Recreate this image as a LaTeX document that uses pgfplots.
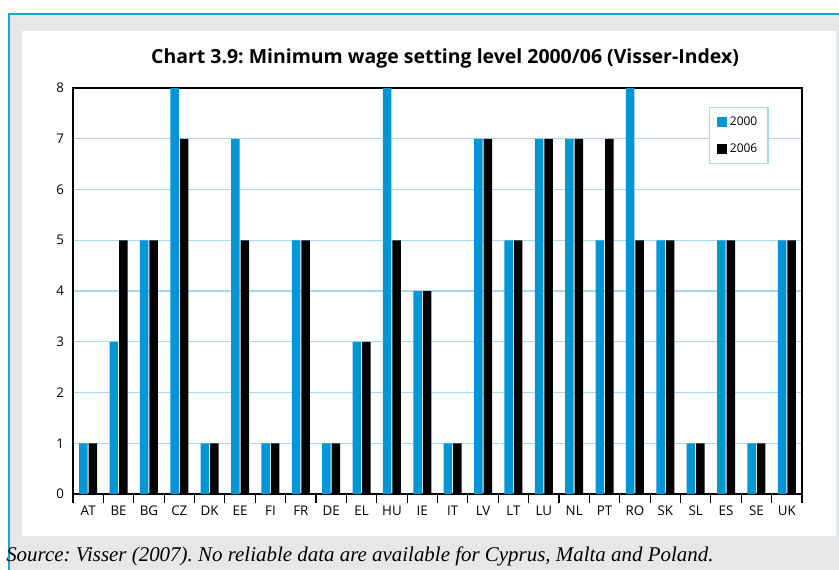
\documentclass[border=0pt]{standalone}
\usepackage{pgfplots}
\pgfplotsset{compat=1.18}
\usepackage{fontspec}
\setmainfont{Open Sans}
\newfontfamily\capfont{Liberation Serif}
\definecolor{barblue}{RGB}{0,150,214}
\definecolor{gridblue}{RGB}{166,216,240}
\definecolor{frameblue}{RGB}{27,161,219}
\definecolor{bggrey}{RGB}{230,231,232}
\frenchspacing
\begin{document}
\begin{tikzpicture}
\begin{scope}[x=0.75pt,y=-0.75pt]
\useasboundingbox (0,0) rectangle (839,570);
\fill[white] (0,0) rectangle (839,570);
\fill[bggrey] (9,15) rectangle (839,570);
\draw[frameblue,line width=1.5pt] (8.5,570) -- (8.5,14.5) -- (839,14.5);
\fill[white] (22,31) rectangle (836,536);
\node[anchor=base,font=\bfseries\fontsize{14.6}{16}\selectfont] at (445,64) {Chart 3.9: Minimum wage setting level 2000/06 (Visser-Index)};
\node[anchor=base west,font=\capfont\itshape\fontsize{15.7}{17}\selectfont,inner sep=0pt] at (6,561) {Source: Visser (2007). No reliable data are available for Cyprus, Malta and Poland.};
\end{scope}
\begin{axis}[
  at={(54.75pt,-370.5pt)}, anchor=south west,
  scale only axis, width=546.75pt, height=304.5pt,
  ybar=0.75pt, bar width=6.4pt,
  xmin=-0.5, xmax=23.5, ymin=0, ymax=8,
  xtick={0,...,23},
  xticklabels={AT,BE,BG,CZ,DK,EE,FI,FR,DE,EL,HU,IE,IT,LV,LT,LU,NL,PT,RO,SK,SL,ES,SE,UK},
  minor xtick={-0.5,0.5,...,23.5},
  major x tick style={draw=none},
  minor x tick style={black, line width=0.8pt},
  minor tick length=7pt,
  tick align=outside,
  xtick pos=bottom, ytick pos=left,
  ytick={0,...,8},
  major y tick style={draw=none},
  ymajorgrids, grid style={gridblue, line width=0.9pt},
  axis line style={black, line width=0.8pt},
  tick label style={font=\fontsize{10}{11}\selectfont},
  yticklabel style={xshift=1pt},
  xticklabel style={yshift=-1pt},
  /pgf/number format/assume math mode=true,
  legend style={at={(0.872,0.953)}, anchor=north west, draw=gridblue, line width=0.8pt,
    font=\fontsize{9}{10}\selectfont, inner xsep=6pt, inner ysep=5pt, row sep=8pt},
  legend cell align=left,
]
\addplot[fill=barblue, draw=none, legend image code/.code={\fill[barblue] (0pt,-3.7pt) rectangle (7.5pt,3.7pt);}] coordinates {
(0,1)(1,3)(2,5)(3,8)(4,1)(5,7)(6,1)(7,5)(8,1)(9,3)(10,8)(11,4)
(12,1)(13,7)(14,5)(15,7)(16,7)(17,5)(18,8)(19,5)(20,1)(21,5)(22,1)(23,5)};
\addplot[fill=black, draw=none, legend image code/.code={\fill[black] (0pt,-3.7pt) rectangle (7.5pt,3.7pt);}] coordinates {
(0,1)(1,5)(2,5)(3,7)(4,1)(5,5)(6,1)(7,5)(8,1)(9,3)(10,5)(11,4)
(12,1)(13,7)(14,5)(15,7)(16,7)(17,7)(18,5)(19,5)(20,1)(21,5)(22,1)(23,5)};
\legend{2000,2006}
\end{axis}
\end{tikzpicture}
\end{document}
